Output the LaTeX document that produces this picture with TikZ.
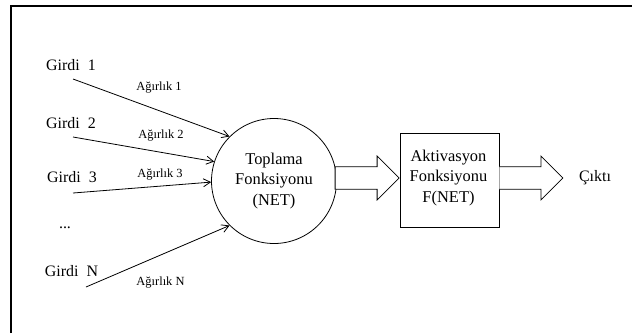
\documentclass[tikz,border=0pt]{standalone}
\usepackage{fontspec}
\setmainfont{Liberation Serif}
\newfontfamily\diagfont{Liberation Serif}
\usetikzlibrary{arrows.meta,calc}
\begin{document}
\begin{tikzpicture}[x=1bp,y=-1bp,
  lbl/.style={font=\diagfont\fontsize{16}{20}\selectfont, inner sep=0pt},
  wlbl/.style={font=\diagfont\fontsize{12.5}{15}\selectfont, inner sep=0pt},
  netlabel/.style={font=\diagfont\fontsize{16.5}{20.5}\selectfont, align=center, inner sep=0pt},
  wire/.style={line width=0.8bp, -{Straight Barb[length=7bp,width=8bp,line width=0.8bp]}},
  fat/.style={draw, line width=0.8bp, fill=white, line join=miter}
]
\useasboundingbox (0,0) rectangle (632,333);
% frame edges
\draw[line width=1.5bp] (11,333) -- (11,6) -- (632,6);

% summation circle and activation box
\node[circle, draw, line width=0.8bp, minimum size=125bp, inner sep=0pt] (sum) at (274,181) {};
\node[netlabel] (sumtxt) at (sum.center) {Toplama\\Fonksiyonu\\(NET)};
\node[draw, line width=0.8bp, minimum width=99bp, minimum height=94bp, inner sep=0pt] (act) at (449.5,180) {};
\node[netlabel] (acttxt) at ($(act.center)+(-1,-2)$) {Aktivasyon\\Fonksiyonu\\F(NET)};
\node[lbl] (out) at (595,178) {Çıktı};

% inputs
\node[lbl] (g1) at (71,65) {Girdi\ \ 1};
\node[lbl] (g2) at (71,123) {Girdi\ \ 2};
\node[lbl] (g3) at (72,177) {Girdi\ \ 3};
\node[lbl] (gd) at (65,228) {...};
\node[lbl] (gn) at (71.5,271) {Girdi\ \ N};

\coordinate (s1) at (73,79);
\coordinate (s2) at (73,137);
\coordinate (s3) at (73,193);
\coordinate (sn) at (86,287);

\draw[wire] (s1) -- (sum.135.6);
\draw[wire] (s2) -- (sum.162.7);
\draw[wire] (s3) -- (sum.181);
\draw[wire] (sn) -- (sum.225);

% weights
\node[wlbl] (w1) at (159,88) {Ağırlık 1};
\node[wlbl] (w2) at (161,136) {Ağırlık 2};
\node[wlbl] (w3) at (160,175) {Ağırlık 3};
\node[wlbl] (wn) at (160.5,283) {Ağırlık N};

% block arrows
\coordinate (t1) at ($(act.west)+(-0.5,-2)$);
\draw[fat] ($(t1)+(-64,-11.3)$) -- ($(t1)+(-22,-11.3)$) -- ($(t1)+(-22,-22)$) -- (t1)
  -- ($(t1)+(-22,22)$) -- ($(t1)+(-22,11.3)$) -- ($(t1)+(-64,11.3)$) -- cycle;
\coordinate (b2) at ($(act.east)+(0,-2)$);
\coordinate (t2) at ($(act.east)+(63.5,-2)$);
\draw[fat] ($(b2)+(0,-11.3)$) -- ($(t2)+(-22,-11.3)$) -- ($(t2)+(-22,-22)$) -- (t2)
  -- ($(t2)+(-22,22)$) -- ($(t2)+(-22,11.3)$) -- ($(b2)+(0,11.3)$);
\end{tikzpicture}
\end{document}
